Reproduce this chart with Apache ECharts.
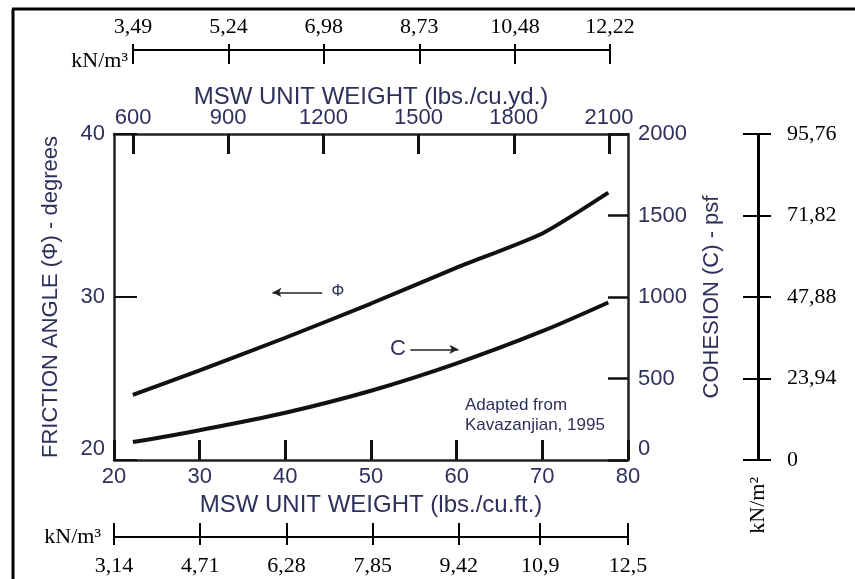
<!DOCTYPE html>
<html>
<head>
<meta charset="utf-8">
<title>MSW unit weight vs strength</title>
<script src="https://cdn.jsdelivr.net/npm/echarts@6/dist/echarts.min.js"></script>
<style>
  html, body { margin: 0; padding: 0; background: #fff; }
  #chart { width: 855px; height: 579px; }
</style>
</head>
<body>
<div id="chart"></div>
<script>
// values
var lbsFt = [22.2, 30, 40, 50, 60, 70, 77.7];            // MSW unit weight, lbs/cu.ft
var phiDeg = [24.0, 25.5, 27.5, 29.6, 31.8, 33.9, 36.4];  // friction angle, degrees
var cohPsf = [110, 183, 290, 425, 593, 790, 966];         // cohesion, psf

var ydTicks = [600, 900, 1200, 1500, 1800, 2100];
var topKn = [3.49, 5.24, 6.98, 8.73, 10.48, 12.22];
var bottomKn = [3.14, 4.71, 6.28, 7.85, 9.42, 10.9, 12.5];
var rightKpa = [0, 23.94, 47.88, 71.82, 95.76];

var navy = '#2f2f5c';
var sans = 'Liberation Sans';
var serif = 'Liberation Serif';
var plain = function (v) { return String(v); };
var comma = function (v) { return String(v).replace('.', ','); };

var chart = echarts.init(document.getElementById('chart'));

var frameLine = { show: true, lineStyle: { color: '#222', width: 2.5 } };
var blackLine = { show: true, lineStyle: { color: '#000', width: 2 } };
var hidden = function (grid) {
  return { type: 'value', gridIndex: grid, show: false, min: 0, max: 1 };
};

chart.setOption({
  animation: false,
  backgroundColor: '#fff',
  grid: [
    { left: 114, right: 227, top: 134, bottom: 119 },
    { left: 133, right: 245, top: 49, height: 1 },
    { left: 114, right: 227, top: 536, height: 1 },
    { left: 758, width: 1, top: 134, bottom: 119 }
  ],
  xAxis: [
    { // main bottom: lbs/cu.ft
      type: 'value', gridIndex: 0, position: 'bottom', min: 20, max: 80, interval: 10,
      axisLine: frameLine,
      axisTick: { inside: true, length: 20, lineStyle: { color: '#111', width: 3 } },
      axisLabel: { color: navy, fontFamily: sans, fontSize: 22, margin: 6, formatter: plain },
      splitLine: { show: false },
      name: 'MSW UNIT WEIGHT (lbs./cu.ft.)', nameLocation: 'middle', nameGap: 33,
      nameTextStyle: { color: navy, fontFamily: sans, fontSize: 24 }
    },
    { // main top: lbs/cu.yd
      type: 'value', gridIndex: 0, position: 'top', min: 540, max: 2160,
      axisLine: frameLine,
      axisTick: { inside: true, length: 20, customValues: ydTicks, lineStyle: { color: '#111', width: 3 } },
      axisLabel: { color: navy, fontFamily: sans, fontSize: 22, margin: 5, customValues: ydTicks, formatter: plain },
      splitLine: { show: false },
      name: 'MSW UNIT WEIGHT (lbs./cu.yd.)', nameLocation: 'middle', nameGap: 25,
      nameMoveOverlap: false,
      nameTextStyle: { color: navy, fontFamily: sans, fontSize: 24 }
    },
    { // top kN/m3, upper side with labels
      type: 'value', gridIndex: 1, position: 'top', min: 3.49, max: 12.22,
      axisLine: blackLine,
      axisTick: { length: 6, customValues: topKn, lineStyle: { color: '#000', width: 2 } },
      axisLabel: { color: '#000', fontFamily: serif, fontSize: 22, margin: 11, customValues: topKn, formatter: comma },
      splitLine: { show: false }
    },
    { // top kN/m3, lower side ticks + unit
      type: 'value', gridIndex: 1, position: 'bottom', min: 3.49, max: 12.22,
      axisLine: blackLine,
      axisTick: { length: 14, customValues: topKn, lineStyle: { color: '#000', width: 2 } },
      axisLabel: { show: false },
      splitLine: { show: false },
      name: 'kN/m³', nameLocation: 'start', nameGap: 5,
      nameTextStyle: { color: '#000', fontFamily: serif, fontSize: 22, verticalAlign: 'top' }
    },
    { // bottom kN/m3, upper ticks
      type: 'value', gridIndex: 2, position: 'top', min: 3.14, max: 12.5,
      axisLine: blackLine,
      axisTick: { length: 14, customValues: bottomKn, lineStyle: { color: '#000', width: 2 } },
      axisLabel: { show: false },
      splitLine: { show: false }
    },
    { // bottom kN/m3, lower ticks + labels
      type: 'value', gridIndex: 2, position: 'bottom', min: 3.14, max: 12.5,
      axisLine: blackLine,
      axisTick: { length: 8, customValues: bottomKn, lineStyle: { color: '#000', width: 2 } },
      axisLabel: { color: '#000', fontFamily: serif, fontSize: 22, margin: 18, customValues: bottomKn, formatter: comma },
      splitLine: { show: false },
      name: 'kN/m³', nameLocation: 'start', nameGap: 13,
      nameTextStyle: { color: '#000', fontFamily: serif, fontSize: 22 }
    },
    hidden(3)
  ],
  yAxis: [
    { // friction angle
      type: 'value', gridIndex: 0, position: 'left', min: 20, max: 40, interval: 10,
      axisLine: frameLine,
      axisTick: { inside: true, length: 23, lineStyle: { color: '#111', width: 2 } },
      axisLabel: { color: navy, fontFamily: sans, fontSize: 22, margin: 9, verticalAlignMinLabel: 'bottom', formatter: plain },
      splitLine: { show: false },
      name: 'FRICTION ANGLE (Φ) - degrees', nameLocation: 'middle', nameGap: 52,
      nameTextStyle: { color: navy, fontFamily: sans, fontSize: 22 }
    },
    { // cohesion
      type: 'value', gridIndex: 0, position: 'right', min: 0, max: 2000, interval: 500,
      axisLine: frameLine,
      axisTick: { inside: true, length: 20, lineStyle: { color: '#111', width: 2.5 } },
      axisLabel: { color: navy, fontFamily: sans, fontSize: 22, margin: 10, verticalAlignMinLabel: 'bottom', formatter: plain },
      splitLine: { show: false },
      name: 'COHESION (C) - psf', nameLocation: 'middle', nameGap: 73,
      nameTextStyle: { color: navy, fontFamily: sans, fontSize: 22 }
    },
    { // kN/m2, left ticks + unit
      type: 'value', gridIndex: 3, position: 'left', min: 0, max: 95.76,
      axisLine: blackLine,
      axisTick: { length: 15, customValues: rightKpa, lineStyle: { color: '#000', width: 2 } },
      axisLabel: { show: false },
      splitLine: { show: false },
      name: 'kN/m²', nameLocation: 'start', nameGap: 17, nameRotate: 90,
      nameTextStyle: { color: '#000', fontFamily: serif, fontSize: 22, align: 'right', verticalAlign: 'middle' }
    },
    { // kN/m2, right ticks + labels
      type: 'value', gridIndex: 3, position: 'right', min: 0, max: 95.76,
      axisLine: blackLine,
      axisTick: { length: 12, customValues: rightKpa, lineStyle: { color: '#000', width: 2 } },
      axisLabel: { color: '#000', fontFamily: serif, fontSize: 22, margin: 28, customValues: rightKpa, formatter: comma },
      splitLine: { show: false }
    },
    hidden(1),
    hidden(2)
  ],
  series: [
    {
      name: 'Φ', type: 'line', xAxisIndex: 0, yAxisIndex: 0, smooth: 0.2,
      symbol: 'none', lineStyle: { color: '#111', width: 4 },
      data: lbsFt.map(function (x, i) { return [x, phiDeg[i]]; }),
      markLine: {
        silent: true, symbol: ['none', 'arrow'], symbolSize: [7, 9],
        lineStyle: { color: '#222', width: 1.5, type: 'solid' }, label: { show: false },
        data: [[{ coord: [44.3, 30.28] }, { coord: [38.5, 30.28] }]]
      }
    },
    {
      name: 'C', type: 'line', xAxisIndex: 0, yAxisIndex: 1, smooth: 0.3,
      symbol: 'none', lineStyle: { color: '#111', width: 4 },
      data: lbsFt.map(function (x, i) { return [x, cohPsf[i]]; }),
      markLine: {
        silent: true, symbol: ['none', 'arrow'], symbolSize: [7, 9],
        lineStyle: { color: '#222', width: 1.5, type: 'solid' }, label: { show: false },
        data: [[{ coord: [54.6, 679] }, { coord: [60.2, 679] }]]
      }
    }
  ],
  graphic: [
    { type: 'line', shape: { x1: 13, y1: 9, x2: 13, y2: 579 }, style: { stroke: '#000', lineWidth: 3 } },
    { type: 'line', shape: { x1: 12, y1: 9, x2: 855, y2: 9 }, style: { stroke: '#000', lineWidth: 3 } },
    { type: 'text', x: 338, y: 292, style: { text: 'Φ', fill: navy, font: '16px "Liberation Sans"', align: 'center', verticalAlign: 'middle' } },
    { type: 'text', x: 398, y: 349, style: { text: 'C', fill: navy, font: '22px "Liberation Sans"', align: 'center', verticalAlign: 'middle' } },
    { type: 'text', x: 465, y: 395, style: { text: 'Adapted from\nKavazanjian, 1995', fill: navy, font: '17px "Liberation Sans"', lineHeight: 20 } }
  ]
});
</script>
</body>
</html>
